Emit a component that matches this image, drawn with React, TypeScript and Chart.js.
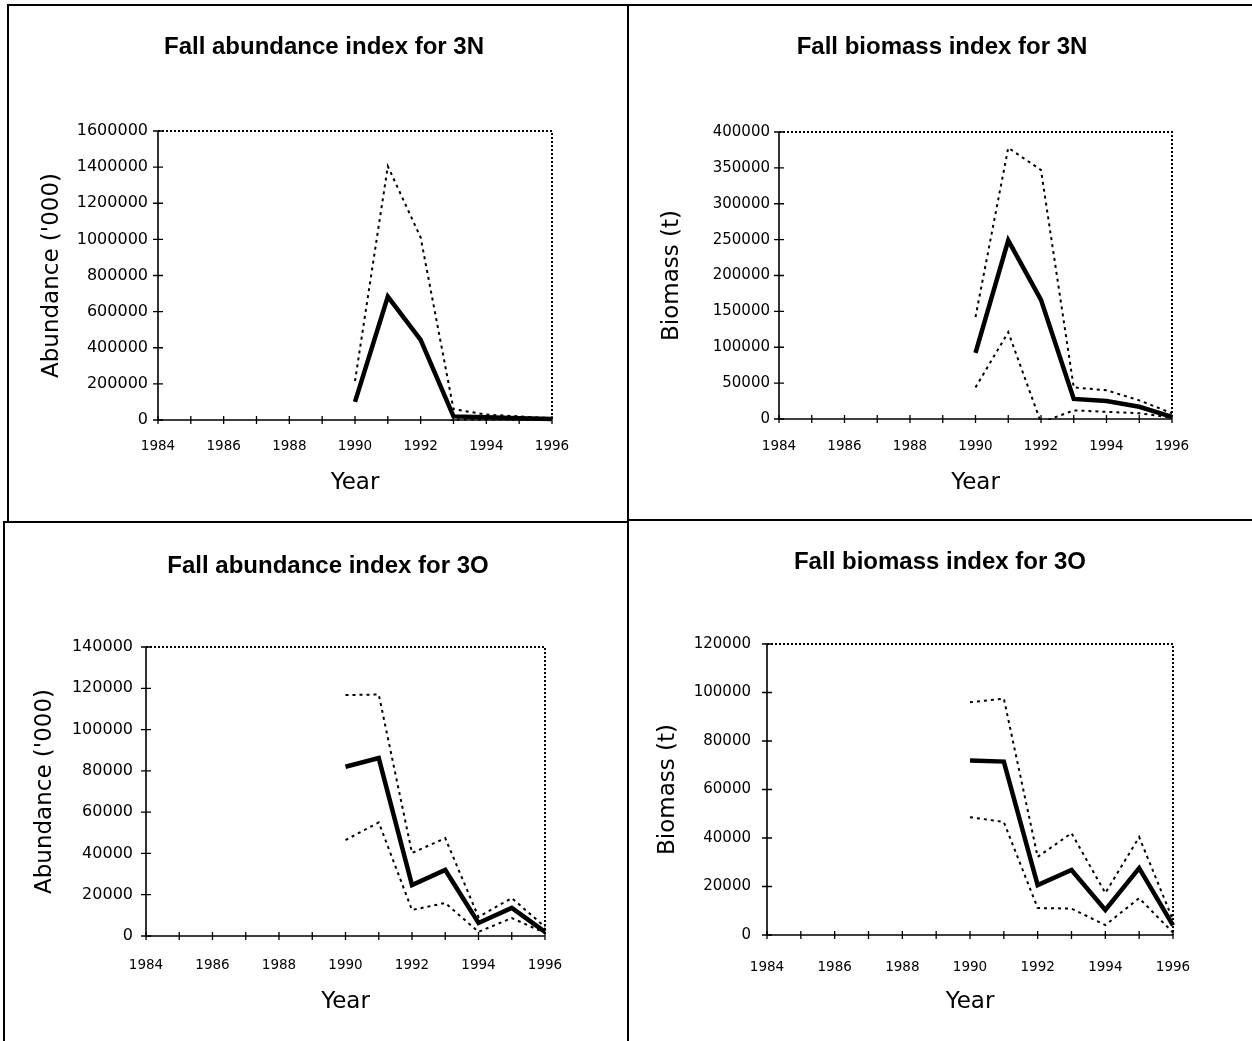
import React, { useEffect, useRef } from "react";
import { Chart, registerables } from "chart.js";

Chart.register(...registerables);

// ---------- data ----------
const years = [1990, 1991, 1992, 1993, 1994, 1995, 1996];

const abund3NMean = [100000, 683000, 444000, 20000, 15000, 10000, 5000];
const abund3NUpper = [215000, 1405000, 1010000, 60000, 30000, 20000, 10000];
const abund3NLower = [-10000, -40000, -120000, 2000, 3000, 2000, 1000];

const biom3NMean = [92000, 249000, 166000, 28000, 25000, 17000, 3000];
const biom3NUpper = [142000, 378000, 347000, 44000, 40000, 26000, 8000];
const biom3NLower = [44000, 121000, -5000, 12000, 10000, 8000, 2000];

const abund3OMean = [82000, 86200, 24700, 32000, 6300, 13600, 2000];
const abund3OUpper = [116700, 117000, 40200, 47400, 9200, 18400, 4400];
const abund3OLower = [46500, 55000, 12600, 16000, 2000, 8700, 1500];

const biom3OMean = [72000, 71500, 20600, 26800, 10300, 27600, 4000];
const biom3OUpper = [96000, 97500, 32200, 42000, 17300, 40400, 6200];
const biom3OLower = [48600, 46600, 11100, 10900, 4100, 15200, 1000];

const xMin = 1984;
const xMax = 1996;
const xStep = 2;

const FONT = "'DejaVu Sans', sans-serif";
const TITLE_FONT = "'Liberation Sans', Arial, sans-serif";
const X_TICK_SIZE = 13.5;

type PanelDef = {
  title: string;
  yTitle: string;
  mean: number[];
  upper: number[];
  lower: number[];
  yMax: number;
  yStep: number;
  canvas: { left: number; top: number; width: number; height: number };
  area: { left: number; top: number; right: number; bottom: number };
  titlePos: { x: number; y: number };
  yTitleX: number;
  yTickPad: number;
  yTickSize: number;
  xLabY: number;
  xTitleY: number;
};

const panels: PanelDef[] = [
  {
    title: "Fall abundance index for 3N",
    yTitle: "Abundance ('000)",
    mean: abund3NMean,
    upper: abund3NUpper,
    lower: abund3NLower,
    yMax: 1600000,
    yStep: 200000,
    canvas: { left: 8, top: 5, width: 620, height: 517 },
    area: { left: 158, top: 131, right: 552, bottom: 420 },
    titlePos: { x: 324, y: 47 },
    yTitleX: 52,
    yTickPad: 10,
    yTickSize: 16,
    xLabY: 446,
    xTitleY: 483,
  },
  {
    title: "Fall biomass index for 3N",
    yTitle: "Biomass (t)",
    mean: biom3NMean,
    upper: biom3NUpper,
    lower: biom3NLower,
    yMax: 400000,
    yStep: 50000,
    canvas: { left: 628, top: 5, width: 624, height: 515 },
    area: { left: 779, top: 132, right: 1172, bottom: 419 },
    titlePos: { x: 942, y: 47 },
    yTitleX: 672,
    yTickPad: 9,
    yTickSize: 15,
    xLabY: 446,
    xTitleY: 483,
  },
  {
    title: "Fall abundance index for 3O",
    yTitle: "Abundance ('000)",
    mean: abund3OMean,
    upper: abund3OUpper,
    lower: abund3OLower,
    yMax: 140000,
    yStep: 20000,
    canvas: { left: 3, top: 522, width: 624, height: 519 },
    area: { left: 146, top: 647, right: 545, bottom: 936 },
    titlePos: { x: 328, y: 566 },
    yTitleX: 45,
    yTickPad: 13,
    yTickSize: 16,
    xLabY: 965,
    xTitleY: 1002,
  },
  {
    title: "Fall biomass index for 3O",
    yTitle: "Biomass (t)",
    mean: biom3OMean,
    upper: biom3OUpper,
    lower: biom3OLower,
    yMax: 120000,
    yStep: 20000,
    canvas: { left: 628, top: 520, width: 624, height: 521 },
    area: { left: 767, top: 644, right: 1173, bottom: 935 },
    titlePos: { x: 940, y: 562 },
    yTitleX: 668,
    yTickPad: 16,
    yTickSize: 15,
    xLabY: 967,
    xTitleY: 1002,
  },
];

function toPoints(vals: number[]) {
  return years.map((x, i) => ({ x, y: vals[i] }));
}

function PanelChart({ p }: { p: PanelDef }) {
  const ref = useRef<HTMLCanvasElement | null>(null);

  useEffect(() => {
    if (!ref.current) return;
    const c = p.canvas;
    const canvasBottom = c.top + c.height;
    const tickLH = X_TICK_SIZE * 1.2;
    const axTitleLH = 23 * 1.2;

    const framePlugin = {
      id: "frameAndTitle",
      afterDraw(chart: any) {
        const { ctx, chartArea } = chart;
        const { left, right, top, bottom } = chartArea;
        const xs = chart.scales.x;
        const ys = chart.scales.y;
        ctx.save();
        ctx.strokeStyle = "#000";
        // dotted top and right border
        ctx.lineWidth = 2;
        ctx.setLineDash([2, 2]);
        ctx.beginPath();
        ctx.moveTo(left, top);
        ctx.lineTo(right, top);
        ctx.lineTo(right, bottom);
        ctx.stroke();
        // solid axes
        ctx.setLineDash([]);
        ctx.lineWidth = 1.6;
        ctx.beginPath();
        ctx.moveTo(left, top);
        ctx.lineTo(left, bottom);
        ctx.lineTo(right, bottom);
        ctx.stroke();
        // crossing tick marks
        ctx.lineWidth = 1.3;
        ctx.beginPath();
        for (const t of ys.ticks) {
          const py = ys.getPixelForValue(t.value);
          ctx.moveTo(left - 5, py);
          ctx.lineTo(left + 5, py);
        }
        for (let yr = xMin; yr <= xMax; yr++) {
          const px = xs.getPixelForValue(yr);
          ctx.moveTo(px, bottom - 4);
          ctx.lineTo(px, bottom + 4);
        }
        ctx.stroke();
        // panel title
        ctx.fillStyle = "#000";
        ctx.font = `bold 24px ${TITLE_FONT}`;
        ctx.textAlign = "center";
        ctx.textBaseline = "middle";
        ctx.fillText(p.title, p.titlePos.x - c.left, p.titlePos.y - c.top);
        ctx.restore();
      },
    };

    const chart = new Chart(ref.current, {
      type: "line",
      data: {
        datasets: [
          {
            label: "Upper",
            data: toPoints(p.upper),
            borderColor: "#000",
            borderWidth: 2,
            borderDash: [3, 4],
            pointRadius: 0,
            tension: 0,
            clip: 1,
          },
          {
            label: "Lower",
            data: toPoints(p.lower),
            borderColor: "#000",
            borderWidth: 2,
            borderDash: [3, 4],
            pointRadius: 0,
            tension: 0,
            clip: 1,
          },
          {
            label: "Index",
            data: toPoints(p.mean),
            borderColor: "#000",
            borderWidth: 4.5,
            pointRadius: 0,
            tension: 0,
            clip: 4,
          },
        ],
      },
      options: {
        responsive: false,
        animation: false,
        devicePixelRatio: 1,
        layout: {
          padding: {
            left: 0,
            top: p.area.top - c.top,
            right: c.left + c.width - p.area.right,
            bottom: 0,
          },
        },
        plugins: {
          legend: { display: false },
          title: { display: false },
          tooltip: { enabled: false },
        },
        scales: {
          x: {
            type: "linear",
            min: xMin,
            max: xMax,
            grid: { display: false, drawTicks: false },
            border: { display: false },
            ticks: {
              stepSize: xStep,
              autoSkip: false,
              maxRotation: 0,
              color: "#000",
              padding: p.xLabY - p.area.bottom - tickLH / 2,
              font: { family: FONT, size: X_TICK_SIZE },
              callback: (v: any) => String(v),
            },
            title: {
              display: true,
              text: "Year",
              color: "#000",
              font: { family: FONT, size: 23 },
              padding: { top: 0, bottom: canvasBottom - p.xTitleY - axTitleLH / 2 },
            },
            afterFit: (s: any) => {
              s.height = canvasBottom - p.area.bottom;
            },
          },
          y: {
            type: "linear",
            min: 0,
            max: p.yMax,
            grid: { display: false, drawTicks: false },
            border: { display: false },
            ticks: {
              stepSize: p.yStep,
              color: "#000",
              padding: p.yTickPad,
              font: { family: FONT, size: p.yTickSize },
              callback: (v: any) => String(v),
            },
            title: {
              display: true,
              text: p.yTitle,
              color: "#000",
              font: { family: FONT, size: 23 },
              padding: { top: p.yTitleX - c.left - axTitleLH / 2, bottom: 0 },
            },
            afterFit: (s: any) => {
              s.width = p.area.left - c.left;
            },
          },
        },
      },
      plugins: [framePlugin],
    } as any);

    return () => chart.destroy();
  }, [p]);

  return (
    <canvas
      ref={ref}
      width={p.canvas.width}
      height={p.canvas.height}
      style={{
        position: "absolute",
        left: p.canvas.left,
        top: p.canvas.top,
        width: p.canvas.width,
        height: p.canvas.height,
      }}
    />
  );
}

const line = (left: number, top: number, width: number, height: number) => (
  <div
    style={{
      position: "absolute",
      left,
      top,
      width,
      height,
      background: "#000",
    }}
  />
);

export default function App() {
  return (
    <div
      style={{
        position: "absolute",
        left: 0,
        top: 0,
        width: 1252,
        height: 1041,
        overflow: "hidden",
        background: "#fff",
      }}
    >
      {line(7, 4, 1245, 2)}
      {line(7, 4, 2, 519)}
      {line(3, 521, 2, 520)}
      {line(627, 4, 2, 1037)}
      {line(3, 521, 625, 2)}
      {line(628, 519, 624, 2)}
      {panels.map((p, i) => (
        <PanelChart key={i} p={p} />
      ))}
    </div>
  );
}
